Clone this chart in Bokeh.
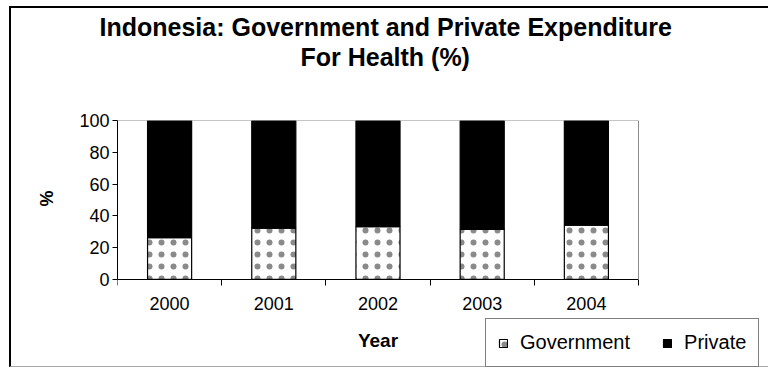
from bokeh.plotting import figure
from bokeh.models import (FixedTicker, Legend, LegendItem, Title, LinearAxis,
                          ColumnDataSource, Range1d)
from bokeh.embed import file_html
from bokeh.resources import INLINE

# ---- data ----
years = ["2000", "2001", "2002", "2003", "2004"]
government = [26.3, 32.2, 33.2, 31.5, 34.1]
private = [73.7, 67.8, 66.8, 68.5, 65.9]
y_ticks = [0, 20, 40, 60, 80, 100]
title_lines = ["Indonesia: Government and Private Expenditure", "For Health (%)"]
y_label = "%"
x_label = "Year"

FONT = "Liberation Sans"
n = len(years)
xpos = [i + 0.5 for i in range(n)]
src = ColumnDataSource(dict(x=xpos, government=government, private=private))

# frame extends right/down so the legend (drawn inside the frame) is not clipped
p = figure(width=759, height=361, x_range=Range1d(0, 6.171), y_range=Range1d(-55.5, 100),
           output_backend="svg", toolbar_location=None,
           min_border_left=106, min_border_right=10, min_border_top=112, min_border_bottom=2)
p.styles = {"margin-left": "9px", "margin-top": "6px",
            "border-left": "2px solid black", "border-top": "2px solid black",
            "border-bottom": "1px solid #a8a8a8"}
p.title.visible = False
p.grid.visible = False
p.background_fill_color = "white"
p.border_fill_color = "white"
p.outline_line_color = None

rs = p.vbar_stack(["government", "private"], x="x", width=0.423, source=src,
                  fill_color=["white", "black"], line_color="black", line_width=1.2,
                  hatch_pattern=["dot", " "], hatch_color="#8a8a8a", hatch_scale=12,
                  hatch_weight=0.5)

# y axis
ya = p.yaxis[0]
ya.bounds = (0, 100)
ya.ticker = FixedTicker(ticks=y_ticks)
ya.major_tick_out = 5
ya.major_tick_in = 0
ya.minor_tick_out = 0
ya.axis_line_color = "black"
ya.major_label_text_font = FONT
ya.major_label_text_font_size = "18px"
ya.major_label_text_color = "black"
ya.major_label_standoff = 3

# y axis title (as a side title so it can sit at the middle of 0..100)
p.add_layout(Title(text=y_label, align="left", offset=161, standoff=40, text_font=FONT,
                   text_font_size="18px", text_font_style="bold", text_color="black"), "left")

# x axis at y=0: labels centered, ticks on category borders
xa = p.xaxis[0]
xa.fixed_location = 0
xa.bounds = (0, n)
xa.ticker = FixedTicker(ticks=xpos, minor_ticks=list(range(n + 1)))
xa.major_label_overrides = {x: y for x, y in zip(xpos, years)}
xa.major_tick_out = 0
xa.major_tick_in = 0
xa.minor_tick_out = 6
xa.minor_tick_in = 0
xa.axis_line_color = "black"
xa.major_label_text_font = FONT
xa.major_label_text_font_size = "18px"
xa.major_label_text_color = "black"
xa.major_label_standoff = 12
xa.axis_label = x_label
xa.axis_label_text_font = FONT
xa.axis_label_text_font_size = "19px"
xa.axis_label_text_font_style = "bold"
xa.axis_label_text_color = "black"
xa.axis_label_standoff = 16

# grey plot-area border on top and right
top_edge = LinearAxis(fixed_location=100, bounds=(0, n), ticker=FixedTicker(ticks=[]),
                      axis_line_color="#8c8c8c", major_label_text_font_size="0px",
                      major_tick_line_color=None, minor_tick_line_color=None)
right_edge = LinearAxis(fixed_location=n, bounds=(0, 100), ticker=FixedTicker(ticks=[]),
                        axis_line_color="#8c8c8c", major_label_text_font_size="0px",
                        major_tick_line_color=None, minor_tick_line_color=None)
p.add_layout(top_edge, "above")
p.add_layout(right_edge, "right")

legend = Legend(items=[LegendItem(label="Government", renderers=[rs[0]]),
                       LegendItem(label="Private", renderers=[rs[1]])],
                orientation="horizontal", location=(368, 0))
legend.label_text_font = FONT
legend.label_text_font_size = "20px"
legend.label_text_color = "black"
legend.label_height = 17
legend.glyph_width = 10
legend.glyph_height = 10
legend.label_standoff = 12
legend.spacing = 32
legend.padding = 12
legend.margin = 0
legend.border_line_color = "black"
legend.border_line_width = 1
legend.background_fill_color = "white"
legend.background_fill_alpha = 1
p.add_layout(legend, "center")

# spacer between the frame and the two title lines
p.add_layout(Title(text=" ", text_font=FONT, text_font_size="43px", standoff=0), "above")
# titles (later ones are farther from the frame), left-aligned with offsets to centre them at x~384
title_offsets = [-18, 183]
for t, off in zip(reversed(title_lines), reversed(title_offsets)):
    p.add_layout(Title(text=t, align="left", offset=off, text_font=FONT,
                       text_font_size="25px", text_font_style="bold",
                       text_color="black", standoff=0), "above")

open("out.html", "w").write(file_html(p, INLINE))
